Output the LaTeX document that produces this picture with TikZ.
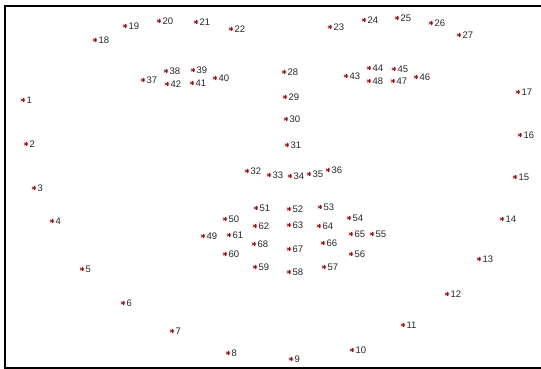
\documentclass[tikz,border=0pt]{standalone}
\usepackage{fontspec}
\newfontfamily\lmkfont{Liberation Sans}
\usetikzlibrary{calc}

\begin{document}
\begin{tikzpicture}[x=1pt,y=-1pt,
    lmk/.style={circle,inner sep=0pt,minimum size=5.4pt,fill=red!12,label distance=1.6pt,
      path picture={\foreach \a in {90,30,-30}
        \draw[red!50!black!90,line width=0.65pt] ($(path picture bounding box.center)+(\a:2.4pt)$) -- ($(path picture bounding box.center)+(\a+180:2.4pt)$);}},
    every label/.style={font=\lmkfont\fontsize{9.5}{11}\selectfont,text=black!85,inner sep=0.5pt}]
        \useasboundingbox (0,0) rectangle (541,369);
        \draw[line width=2pt] (541,6) -- (5,6) -- (5,367.5) -- (541,367.5);
        % jaw line
        \node[lmk,label=right:1] (p1) at (23,100) {};
        \node[lmk,label=right:2] (p2) at (26,144) {};
        \node[lmk,label=right:3] (p3) at (34,188) {};
        \node[lmk,label=right:4] (p4) at (52,221) {};
        \node[lmk,label=right:5] (p5) at (82,269) {};
        \node[lmk,label=right:6] (p6) at (123,303) {};
        \node[lmk,label=right:7] (p7) at (172,331) {};
        \node[lmk,label=right:8] (p8) at (228,353) {};
        \node[lmk,label=right:9] (p9) at (291,359) {};
        \node[lmk,label=right:10] (p10) at (352,350) {};
        \node[lmk,label=right:11] (p11) at (403,325) {};
        \node[lmk,label=right:12] (p12) at (447,294) {};
        \node[lmk,label=right:13] (p13) at (479,259) {};
        \node[lmk,label=right:14] (p14) at (502,219) {};
        \node[lmk,label=right:15] (p15) at (515,177) {};
        \node[lmk,label=right:16] (p16) at (520,135) {};
        \node[lmk,label=right:17] (p17) at (518,92) {};
        % brows
        \node[lmk,label=right:18] (p18) at (95,40) {};
        \node[lmk,label=right:19] (p19) at (125,26) {};
        \node[lmk,label=right:20] (p20) at (159,21) {};
        \node[lmk,label=right:21] (p21) at (196,22) {};
        \node[lmk,label=right:22] (p22) at (231,29) {};
        \node[lmk,label=right:23] (p23) at (330,27) {};
        \node[lmk,label=right:24] (p24) at (364,20) {};
        \node[lmk,label=right:25] (p25) at (397,18) {};
        \node[lmk,label=right:26] (p26) at (431,23) {};
        \node[lmk,label=right:27] (p27) at (459,35) {};
        % nose
        \node[lmk,label=right:28] (p28) at (284,72) {};
        \node[lmk,label=right:29] (p29) at (285,97) {};
        \node[lmk,label=right:30] (p30) at (286,119) {};
        \node[lmk,label=right:31] (p31) at (287,145) {};
        \node[lmk,label=right:32] (p32) at (247,171) {};
        \node[lmk,label=right:33] (p33) at (269,175) {};
        \node[lmk,label=right:34] (p34) at (290,176) {};
        \node[lmk,label=right:35] (p35) at (309,174) {};
        \node[lmk,label=right:36] (p36) at (328,170) {};
        % eyes
        \node[lmk,label=right:37] (p37) at (143,80) {};
        \node[lmk,label=right:38] (p38) at (166,71) {};
        \node[lmk,label=right:39] (p39) at (193,70) {};
        \node[lmk,label=right:40] (p40) at (215,78) {};
        \node[lmk,label=right:41] (p41) at (192,83) {};
        \node[lmk,label=right:42] (p42) at (167,84) {};
        \node[lmk,label=right:43] (p43) at (346,76) {};
        \node[lmk,label=right:44] (p44) at (369,68) {};
        \node[lmk,label=right:45] (p45) at (394,69) {};
        \node[lmk,label=right:46] (p46) at (416,77) {};
        \node[lmk,label=right:47] (p47) at (393,81) {};
        \node[lmk,label=right:48] (p48) at (369,81) {};
        % mouth
        \node[lmk,label=right:49] (p49) at (203,236) {};
        \node[lmk,label=right:50] (p50) at (225,219) {};
        \node[lmk,label=right:51] (p51) at (256,208) {};
        \node[lmk,label=right:52] (p52) at (289,209) {};
        \node[lmk,label=right:53] (p53) at (320,207) {};
        \node[lmk,label=right:54] (p54) at (349,218) {};
        \node[lmk,label=right:55] (p55) at (372,234) {};
        \node[lmk,label=right:56] (p56) at (351,254) {};
        \node[lmk,label=right:57] (p57) at (324,267) {};
        \node[lmk,label=right:58] (p58) at (289,272) {};
        \node[lmk,label=right:59] (p59) at (255,267) {};
        \node[lmk,label=right:60] (p60) at (225,254) {};
        \node[lmk,label=right:61] (p61) at (229,235) {};
        \node[lmk,label=right:62] (p62) at (255,226) {};
        \node[lmk,label=right:63] (p63) at (289,225) {};
        \node[lmk,label=right:64] (p64) at (319,226) {};
        \node[lmk,label=right:65] (p65) at (351,234) {};
        \node[lmk,label=right:66] (p66) at (323,243) {};
        \node[lmk,label=right:67] (p67) at (289,249) {};
        \node[lmk,label=right:68] (p68) at (254,244) {};
\end{tikzpicture}
\end{document}
